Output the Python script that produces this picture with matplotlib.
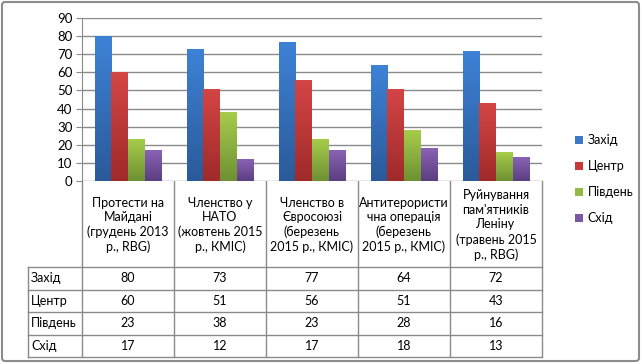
"""
Excel-style clustered bar chart with data table (regions of Ukraine).
"""
import numpy as np
import matplotlib.pyplot as plt
from matplotlib.patches import Patch, FancyBboxPatch
from matplotlib.colors import LinearSegmentedColormap

plt.rcParams['font.family'] = ['Lato', 'DejaVu Sans']

categories = ["Протести на\nМайдані\n(грудень 2013\nр., RBG)",
              "Членство у\nНАТО\n(жовтень 2015\nр., КМІС)",
              "Членство в\nЄвросоюзі\n(березень\n2015 р., КМІС)",
              "Антитерористи\nчна операція\n(березень\n2015 р., КМІС)",
              "Руйнування\nпам'ятників\nЛеніну\n(травень 2015\nр., RBG)"]
series = ["Захід", "Центр", "Південь", "Схід"]
zakhid = [80, 73, 77, 64, 72]
tsentr = [60, 51, 56, 51, 43]
pivden = [23, 38, 23, 28, 16]
skhid = [17, 12, 17, 18, 13]
values = [zakhid, tsentr, pivden, skhid]

# top / bottom colours of each gradient
grad = [("#3e82d6", "#2a5a9a"), ("#d44545", "#a02a2a"),
        ("#a6cc4c", "#6e9132"), ("#8a62b4", "#5b3f82")]
legend_col = ["#3b78c8", "#c83a3a", "#92bb46", "#7b58a6"]

W, H = 642, 364
fig = plt.figure(figsize=(W / 100, H / 100), dpi=100)

# overlay in pixel coordinates for the table and the frame
ov = fig.add_axes([0, 0, 1, 1])
ov.set_xlim(0, W)
ov.set_ylim(H, 0)
ov.axis('off')
ov.add_patch(FancyBboxPatch((2, 2), W - 5, H - 5, boxstyle="round,pad=0,rounding_size=3",
                            fill=False, ec="#8c8c8c", lw=1.5))

x0, x1, y0, y1 = 82, 542, 181, 18
ax = fig.add_axes([x0 / W, 1 - y0 / H, (x1 - x0) / W, (y0 - y1) / H])
ax.set_xlim(0, len(categories))
ax.set_ylim(0, 90)
ax.set_yticks(range(0, 91, 10))
ax.yaxis.grid(True, color="#8a8a8a", lw=1)
ax.set_axisbelow(True)
ax.set_xticks([])
for s in ['top', 'right', 'bottom']:
    ax.spines[s].set_visible(False)
ax.spines['left'].set_color("#8a8a8a")
ax.tick_params(axis='y', length=4, color="#8a8a8a", labelsize=9.5, pad=3)

bw = 0.18
x = np.arange(len(categories)) + 0.5
for j, vals in enumerate(values):
    cmap = LinearSegmentedColormap.from_list("g", [grad[j][1], grad[j][0]])
    bars = ax.bar(x + (j - 1.5) * bw, vals, bw, color="none", edgecolor="none")
    for b in bars:
        bx, by = b.get_x(), b.get_y()
        h = b.get_height()
        g = np.linspace(0, 1, 64).reshape(-1, 1)
        im = ax.imshow(g, cmap=cmap, origin='lower', aspect='auto',
                       extent=[bx, bx + bw, by, by + h], zorder=2)
        im.set_clip_path(b)
ax.set_xlim(0, len(categories))
ax.set_ylim(0, 90)

# data table
colw = (x1 - x0) / len(categories)
row_top = 267
row_h = 22.5
lc = "#8a8a8a"
for i in range(len(categories) + 1):
    xx = x0 + i * colw
    ov.plot([xx, xx], [y0, row_top + 4 * row_h], color=lc, lw=1)
ov.plot([28, 28], [row_top, row_top + 4 * row_h], color=lc, lw=1)
for r in range(5):
    yy = row_top + r * row_h
    ov.plot([28, x1], [yy, yy], color=lc, lw=1)
for i, c in enumerate(categories):
    ov.text(x0 + (i + 0.5) * colw, (y0 + row_top) / 2 + 1, c, ha='center', va='center',
            fontsize=9, linespacing=1.25)
for r, (name, vals) in enumerate(zip(series, values)):
    yy = row_top + (r + 0.5) * row_h
    ov.text(31, yy, name, ha='left', va='center', fontsize=9)
    for i, v in enumerate(vals):
        ov.text(x0 + (i + 0.5) * colw, yy, str(v), ha='center', va='center', fontsize=9)

handles = [Patch(facecolor=c, edgecolor='none') for c in legend_col]
fig.legend(handles, series, loc='upper left', bbox_to_anchor=(564 / W, 1 - 123 / H),
           frameon=False, fontsize=9, handlelength=0.6, handleheight=0.6,
           handletextpad=0.4, labelspacing=1.12)

fig.savefig("out.png", dpi=100)
